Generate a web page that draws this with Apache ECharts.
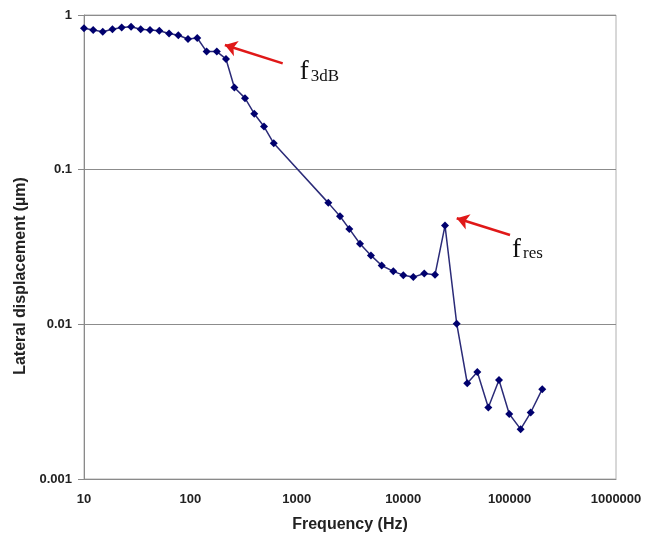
<!DOCTYPE html>
<html>
<head>
<meta charset="utf-8">
<script src="https://cdn.jsdelivr.net/npm/echarts@6/dist/echarts.min.js"></script>
<style>
  html, body { margin: 0; padding: 0; background: #fff; }
  #main { width: 655px; height: 540px; }
</style>
</head>
<body>
<div id="main"></div>
<script>
// measured frequency (Hz) and lateral displacement (um)
var freq = [10, 12.2, 15.0, 18.5, 22.6, 27.7, 34.1, 41.7, 51.0, 63.0, 77.0, 94.9, 116, 142, 177, 216,
            259, 326, 398, 492, 607,
            1977, 2546, 3115, 3925, 4977, 6281, 8073, 10030, 12450, 15780, 19900, 24720,
            31840, 40010, 49740, 63100, 79500, 99300, 127000, 157800, 202700];
var disp = [0.82, 0.80, 0.78, 0.81, 0.83, 0.84, 0.81, 0.80, 0.79, 0.76, 0.74, 0.70, 0.71, 0.58, 0.58, 0.52,
            0.34, 0.29, 0.23, 0.19, 0.148,
            0.061, 0.050, 0.0414, 0.0332, 0.0279, 0.0240, 0.0220, 0.0208, 0.0202, 0.0213, 0.0209, 0.0435,
            0.0101, 0.00416, 0.00492, 0.00290, 0.00437, 0.00263, 0.00210, 0.00269, 0.00381];

// annotation arrows in data coordinates: [tail, head]
var arrow3dB = [[737, 0.487], [211, 0.64]];
var arrowRes = [[100900, 0.0378], [31840, 0.0485]];

var yTicks = [0.001, 0.01, 0.1, 1];

var points = freq.map(function (f, i) { return [f, disp[i]]; });

var chart = echarts.init(document.getElementById('main'));
chart.setOption({
  animation: false,
  backgroundColor: '#fff',
  grid: {
    left: 84, right: 39, top: 15, bottom: 61,
    show: true, borderColor: '#b0b0b0', borderWidth: 1
  },
  xAxis: {
    type: 'log', logBase: 10, min: 10, max: 1000000,
    name: 'Frequency (Hz)', nameLocation: 'middle', nameGap: 38,
    nameTextStyle: { fontFamily: 'Liberation Sans', fontWeight: 'bold', fontSize: 16, color: '#222' },
    axisLine: { lineStyle: { color: '#8a8a8a', width: 1 } },
    axisTick: { show: false },
    splitLine: { show: false },
    axisLabel: {
      margin: 14, fontFamily: 'Liberation Sans', fontWeight: 'bold', fontSize: 13, color: '#222',
      formatter: function (v) { return String(Math.round(v)); }
    }
  },
  yAxis: {
    type: 'log', logBase: 10, min: 0.001, max: 1,
    name: 'Lateral displacement (µm)', nameLocation: 'middle', nameGap: 51, nameRotate: 90,
    nameTextStyle: {
      fontFamily: 'Liberation Sans', fontWeight: 'bold', fontSize: 16, color: '#222',
      padding: [0, 58, 0, 0]
    },
    axisLine: { show: true, lineStyle: { color: '#8a8a8a', width: 1 } },
    axisTick: { show: true, inside: false, length: 6, lineStyle: { color: '#8a8a8a' } },
    splitLine: { show: true, lineStyle: { color: '#8c8c8c', width: 1 } },
    axisLabel: {
      margin: 12, fontFamily: 'Liberation Sans', fontWeight: 'bold', fontSize: 13, color: '#222',
      formatter: function (v) {
        var r = yTicks.find(function (t) { return Math.abs(t - v) / t < 1e-6; });
        return r !== undefined ? String(r) : '';
      }
    }
  },
  series: [{
    type: 'line',
    data: points,
    symbol: 'diamond',
    symbolSize: 8,
    itemStyle: { color: '#00006e' },
    lineStyle: { color: '#2b2b78', width: 1.5 },
    markLine: {
      silent: true,
      symbol: ['none', 'arrow'],
      symbolSize: 12,
      label: { show: false },
      lineStyle: { color: '#e01818', width: 2.5, type: 'solid' },
      data: [
        [{ coord: arrow3dB[0] }, { coord: arrow3dB[1] }],
        [{ coord: arrowRes[0] }, { coord: arrowRes[1] }]
      ]
    }
  }]
});

// subscripted labels next to the arrow tails
var t1 = chart.convertToPixel({ gridIndex: 0 }, arrow3dB[0]);
var t2 = chart.convertToPixel({ gridIndex: 0 }, arrowRes[0]);
var serif = 'Liberation Serif';
chart.setOption({
  graphic: [
    { type: 'text', x: t1[0] + 17, y: t1[1] - 5, style: { text: 'f', font: '27px "' + serif + '"', fill: '#111' } },
    { type: 'text', x: t1[0] + 28, y: t1[1] + 5, style: { text: '3dB', font: '17px "' + serif + '"', fill: '#111' } },
    { type: 'text', x: t2[0] + 2, y: t2[1] + 1, style: { text: 'f', font: '27px "' + serif + '"', fill: '#111' } },
    { type: 'text', x: t2[0] + 13, y: t2[1] + 10, style: { text: 'res', font: '17px "' + serif + '"', fill: '#111' } }
  ]
});
</script>
</body>
</html>
